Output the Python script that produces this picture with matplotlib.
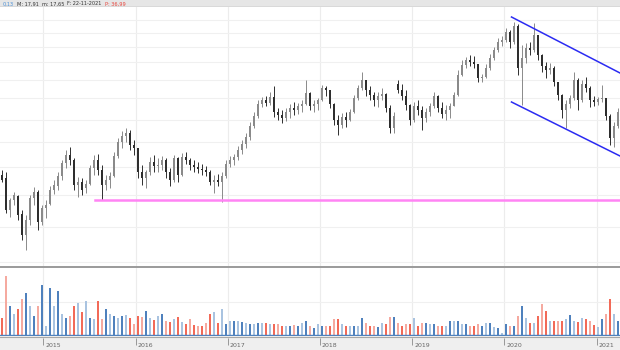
import matplotlib
matplotlib.use("Agg")
import matplotlib.dates as mdates
import matplotlib.pyplot as plt
import numpy as np
import pandas as pd

W, H = 620, 350

# one bar roughly every 16 days, mid 2014 -> Q1 2021
dates = pd.date_range("2014-07-21", "2021-03-26", periods=155)

opens = [
    12.5, 12.2, 9.0, 10.0, 10.4, 8.6, 6.5, 8.0, 10.2, 10.8,
    7.8, 9.2, 9.6, 11.0, 11.4, 12.4, 13.7, 14.5, 14.0, 11.5,
    11.8, 11.2, 11.6, 13.2, 14.0, 13.0, 11.5, 12.0, 12.4, 14.4,
    15.8, 16.4, 16.7, 15.5, 15.2, 12.8, 12.2, 12.8, 13.8, 13.4,
    13.5, 14.0, 12.8, 12.0, 14.2, 12.5, 14.3, 14.0, 13.5, 13.3,
    13.1, 13.0, 12.8, 11.8, 12.0, 11.8, 12.4, 13.6, 14.0, 14.3,
    15.0, 15.6, 16.3, 17.4, 18.4, 19.6, 20.0, 19.7, 20.3, 18.8,
    18.5, 18.2, 18.8, 19.2, 19.0, 19.4, 19.6, 20.7, 19.4, 19.6,
    20.0, 21.2, 21.0, 19.6, 18.0, 17.5, 18.3, 18.0, 18.8, 20.2,
    21.2, 22.0, 21.0, 20.5, 20.0, 20.4, 20.6, 19.2, 17.2, 21.6,
    21.0, 20.4, 19.5, 18.0, 19.4, 19.0, 18.2, 18.8, 19.4, 20.4,
    19.2, 18.6, 19.0, 19.4, 20.5, 22.5, 23.5, 24.0, 23.8, 23.6,
    22.2, 22.3, 23.2, 24.2, 25.0, 25.8, 26.0, 26.8, 25.8, 27.4,
    23.2, 24.2, 25.2, 25.0, 26.5, 24.5, 23.4, 23.0, 23.2, 21.8,
    20.5, 19.0, 19.6, 20.2, 22.0, 20.0, 21.6, 21.2, 20.0, 19.8,
    20.1, 20.2, 18.4, 16.2, 17.4,
]
highs = [
    13.0, 12.8, 10.2, 10.8, 10.5, 9.0, 8.5, 10.5, 11.3, 11.0,
    9.5, 10.0, 11.4, 12.0, 12.8, 14.0, 15.0, 15.3, 14.2, 12.3,
    12.2, 12.0, 13.5, 14.5, 14.6, 13.5, 12.5, 12.8, 14.8, 16.2,
    16.9, 17.2, 17.0, 16.0, 15.2, 13.5, 13.0, 14.3, 14.5, 14.2,
    14.4, 14.2, 13.2, 14.5, 14.3, 14.7, 14.8, 14.2, 14.0, 13.8,
    13.6, 13.4, 13.0, 12.5, 12.6, 12.8, 14.0, 14.4, 14.6, 15.4,
    16.0, 16.7, 17.8, 18.8, 20.0, 20.3, 20.4, 20.8, 21.4, 19.2,
    19.0, 19.2, 19.6, 19.8, 19.7, 20.0, 22.0, 20.8, 20.0, 20.2,
    21.5, 21.4, 21.0, 19.7, 18.5, 18.7, 18.8, 19.1, 20.5, 21.5,
    22.8, 22.0, 21.4, 20.8, 20.8, 21.2, 20.7, 19.5, 18.8, 22.0,
    21.6, 21.0, 19.6, 19.8, 20.0, 19.4, 19.2, 19.7, 20.8, 20.5,
    19.8, 19.5, 19.7, 20.8, 23.0, 24.0, 24.3, 24.5, 24.4, 23.6,
    22.6, 23.6, 24.6, 25.3, 26.2, 26.4, 27.2, 27.0, 27.8, 27.6,
    25.5, 25.7, 25.8, 27.7, 26.5, 24.6, 23.8, 23.7, 23.4, 21.8,
    20.6, 20.0, 20.5, 22.8, 22.2, 22.0, 22.3, 21.4, 20.4, 20.3,
    21.5, 20.2, 18.6, 17.8, 19.2,
]
lows = [
    11.8, 8.7, 8.3, 9.5, 8.0, 6.0, 5.0, 7.5, 9.5, 7.0,
    7.5, 8.2, 9.5, 10.6, 11.0, 12.0, 13.2, 13.5, 11.0, 10.3,
    10.5, 10.7, 11.5, 12.5, 12.5, 10.0, 11.0, 11.2, 12.3, 14.2,
    15.2, 15.8, 15.0, 14.5, 12.2, 11.5, 11.2, 12.5, 12.8, 12.8,
    13.0, 12.2, 11.4, 11.8, 11.8, 12.4, 13.6, 13.0, 12.8, 12.7,
    12.5, 12.4, 11.5, 10.7, 11.4, 9.8, 12.2, 13.3, 13.5, 14.0,
    14.6, 15.2, 16.0, 17.2, 18.2, 19.3, 19.4, 19.5, 18.3, 18.0,
    17.7, 17.9, 18.2, 18.5, 18.6, 18.8, 19.5, 19.0, 18.8, 19.0,
    19.9, 20.4, 19.2, 17.5, 16.5, 17.2, 17.3, 17.9, 18.7, 20.0,
    21.0, 20.4, 20.0, 19.4, 19.3, 20.0, 18.8, 16.7, 16.7, 20.7,
    20.0, 19.0, 17.5, 17.8, 18.5, 17.0, 17.8, 18.4, 19.2, 18.8,
    18.2, 18.0, 18.2, 19.4, 20.4, 22.4, 23.2, 23.4, 23.2, 21.8,
    21.8, 22.2, 23.0, 24.0, 24.8, 25.4, 25.8, 25.2, 25.6, 22.5,
    19.5, 23.7, 24.5, 24.8, 24.0, 22.8, 22.2, 22.6, 21.4, 20.0,
    18.2, 17.2, 19.2, 20.0, 19.0, 19.8, 20.8, 19.3, 19.4, 19.5,
    19.8, 18.0, 15.5, 15.3, 17.2,
]
closes = [
    12.0, 9.0, 10.0, 10.5, 8.5, 6.5, 8.0, 10.2, 10.8, 7.8,
    9.2, 9.5, 11.0, 11.5, 12.4, 13.7, 14.5, 14.0, 11.5, 11.8,
    11.0, 11.6, 13.2, 14.0, 13.0, 11.5, 12.0, 12.4, 14.4, 15.8,
    16.4, 16.7, 15.5, 15.2, 12.8, 12.2, 12.8, 13.8, 13.4, 13.5,
    14.0, 12.8, 12.0, 14.2, 12.5, 14.3, 14.0, 13.5, 13.3, 13.1,
    13.0, 12.8, 11.8, 12.0, 11.8, 12.4, 13.6, 14.0, 14.3, 15.0,
    15.6, 16.3, 17.4, 18.4, 19.6, 20.0, 19.7, 20.3, 18.8, 18.5,
    18.2, 18.8, 19.2, 19.0, 19.4, 19.6, 20.7, 19.4, 19.6, 20.0,
    21.2, 21.0, 19.6, 18.0, 17.5, 18.3, 18.0, 18.8, 20.2, 21.2,
    22.0, 21.0, 20.5, 20.0, 20.4, 20.6, 19.2, 17.2, 18.4, 21.0,
    20.4, 19.5, 18.0, 19.4, 19.0, 18.2, 18.8, 19.4, 20.4, 19.2,
    18.6, 19.0, 19.4, 20.5, 22.5, 23.5, 24.0, 23.8, 23.6, 22.2,
    22.3, 23.2, 24.2, 25.0, 25.8, 26.0, 26.8, 25.8, 27.4, 23.2,
    24.2, 25.2, 25.0, 26.5, 24.5, 23.4, 23.0, 23.2, 21.8, 20.5,
    19.0, 19.6, 20.2, 22.0, 20.0, 21.6, 21.2, 20.0, 19.8, 20.1,
    20.2, 18.4, 16.2, 17.4, 18.8,
]
volumes = [
    18, 60, 30, 22, 27, 37, 43, 30, 20, 30,
    51, 10, 48, 30, 45, 22, 18, 20, 30, 33,
    24, 35, 18, 17, 35, 17, 27, 22, 20, 18,
    20, 21, 18, 12, 20, 19, 25, 18, 16, 20,
    22, 15, 14, 17, 19, 14, 12, 17, 11, 10,
    10, 13, 22, 24, 13, 27, 12, 15, 15, 15,
    14, 13, 12, 12, 13, 13, 13, 12, 12, 12,
    10, 10, 10, 11, 10, 13, 15, 10, 8, 12,
    10, 10, 10, 17, 17, 12, 10, 10, 10, 10,
    18, 13, 10, 10, 9, 13, 12, 19, 19, 13,
    10, 12, 12, 18, 10, 13, 13, 12, 12, 10,
    10, 10, 15, 15, 15, 12, 12, 10, 10, 12,
    10, 13, 13, 9, 8, 3, 12, 10, 10, 20,
    30, 18, 13, 13, 20, 32, 25, 15, 15, 15,
    15, 17, 21, 15, 14, 18, 17, 15, 11, 9,
    17, 22, 37, 22, 15,
]

year_starts = ["2015-01-01", "2016-01-01", "2017-01-01", "2018-01-01",
               "2019-01-01", "2020-01-01", "2021-01-01"]
year_labels = ["2015", "2016", "2017", "2018", "2019", "2020", "2021"]
price_grid = [28.0, 26.7, 25.3, 23.8, 22.0, 20.2, 18.0, 15.8, 13.3, 10.5, 7.3, 3.8]
volume_grid = [33.5]

# drawn trendlines
channel_dates = ["2020-01-30", "2021-04-04"]
channel_upper = [28.3, 22.7]
channel_lower = [19.8, 14.4]
support_dates = ["2015-07-24", "2021-04-04"]
support_level = [10.0, 10.0]

header_parts = [("0,13", "#4a8fd6"), ("M: 17,91", "#333333"), ("m: 17,65", "#333333"),
                ("F: 22-11-2021", "#333333"), ("P: 36,99", "#e8453c")]

X0 = mdates.date2num(pd.Timestamp("2014-07-13"))
X1 = mdates.date2num(pd.Timestamp("2021-04-04"))


def px_axes(fig, x0, y0, x1, y1):
    ax = fig.add_axes([x0 / W, 1 - y1 / H, (x1 - x0) / W, (y1 - y0) / H])
    ax.set_xlim(X0, X1)
    ax.set_xticks([])
    ax.set_yticks([])
    for s in ax.spines.values():
        s.set_visible(False)
    return ax


fig = plt.figure(figsize=(W / 100, H / 100), dpi=100)
fig.patch.set_facecolor("white")

t = mdates.date2num(dates)
o = np.array(opens)
c = np.array(closes)
years_t = mdates.date2num(pd.to_datetime(year_starts))
up = c >= o

# --- header strip, pieces laid out left to right
ax_h = px_axes(fig, 0, 0, W, 7)
ax_h.set_facecolor("#e6e6e6")
ax_h.axhline(0.02, color="#a5a5a5", lw=1.0)
renderer = fig.canvas.get_renderer()
xp = 3.0
for txt, col in header_parts:
    tx = fig.text(xp / W, 1 - 3.8 / H, txt, color=col, fontsize=3.6, va="center", ha="left")
    xp += tx.get_window_extent(renderer).width + 3.0

# --- price panel
ax = px_axes(fig, 0, 7, W, 266)
ax.set_ylim(3.4, 29.3)
for yt in years_t:
    ax.axvline(yt, color="#ececec", lw=0.8, zorder=0)
for p in price_grid:
    ax.axhline(p, color="#f0f0f0", lw=0.8, zorder=0)

wick_col = np.where(up, "#8a8a8a", "#2e2e2e")
ax.vlines(t, lows, highs, colors=wick_col, lw=0.7, zorder=2)
body_h = np.maximum(np.abs(c - o), 0.1)
ax.bar(t, body_h, bottom=np.minimum(o, c), width=9, color=wick_col, lw=0, zorder=3)

cd = mdates.date2num(pd.to_datetime(channel_dates))
ax.plot(cd, channel_upper, color="#2b2bf2", lw=1.1, zorder=4)
ax.plot(cd, channel_lower, color="#2b2bf2", lw=1.1, zorder=4)
sd = mdates.date2num(pd.to_datetime(support_dates))
ax.plot(sd, support_level, color="#ff84f4", lw=1.8, zorder=4)

# --- separator
ax_s = px_axes(fig, 0, 266, W, 268)
ax_s.set_facecolor("#9c9c9c")

# --- volume panel
ax_v = px_axes(fig, 0, 268, W, 335.5)
ax_v.set_ylim(0, 67.5)
for yt in years_t:
    ax_v.axvline(yt, color="#ececec", lw=0.8, zorder=0)
for v in volume_grid:
    ax_v.axhline(v, color="#f0f0f0", lw=0.8, zorder=0)
dark = np.arange(len(t)) % 2 == 0
vol_col = np.where(up, np.where(dark, "#4f81bd", "#a9c3e0"),
                   np.where(dark, "#f26a58", "#f5aaa0"))
ax_v.bar(t, volumes, width=7, color=vol_col, lw=0, zorder=2)
ax_v.axhline(0.4, color="#4f81bd", lw=1.0, zorder=3)

# --- time axis strip
ax_b = px_axes(fig, 0, 335.5, W, H)
ax_b.set_facecolor("#efefef")
ax_b.set_ylim(0, 1)
ax_b.axhline(0.93, color="#a8a8a8", lw=0.8)
ax_b.vlines(years_t, 0.35, 0.85, color="#8a8a8a", lw=0.6)
for yt, lab in zip(years_t, year_labels):
    ax_b.text(yt + 8, 0.3, lab, fontsize=4.5, color="#666666", va="center", ha="left")

fig.savefig("out.png", dpi=100)
